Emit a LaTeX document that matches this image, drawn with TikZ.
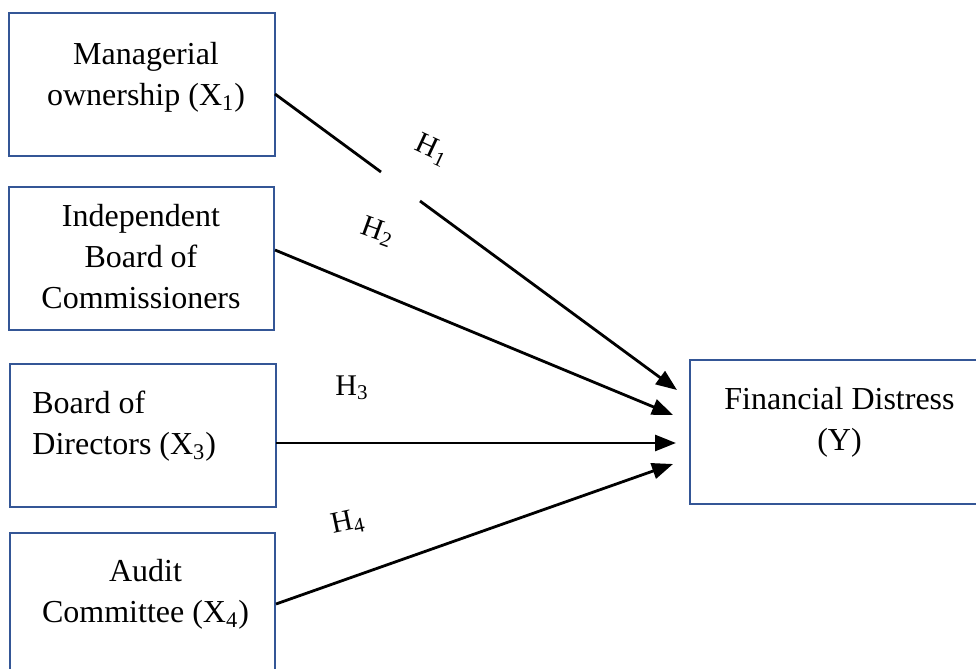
\documentclass[tikz,border=0pt]{standalone}
\usepackage{fontspec}
\setmainfont{Liberation Serif}
\usetikzlibrary{arrows.meta}
\definecolor{boxblue}{RGB}{52,86,150}
\tikzset{
  varbox/.style={draw=boxblue, line width=1.3pt},
  lbl/.style={font=\fontsize{16}{20.5}\selectfont, inner sep=0pt},
  hlbl/.style={font=\fontsize{15}{18}\selectfont, inner sep=0pt},
  conn/.style={line width=1.4pt, -{Triangle[length=10.5pt,width=8pt]}},
  plain/.style={line width=1.4pt}
}
\begin{document}
\begin{tikzpicture}[x=0.5pt,y=-0.5pt]
\useasboundingbox (0,0) rectangle (976,669);
% boxes
\draw[varbox] (9,13) rectangle (275,156);
\draw[varbox] (9,187) rectangle (274,330);
\draw[varbox] (10,364) rectangle (276,507);
\draw[varbox] (10,533) rectangle (275,680);
\draw[varbox] (690,360) rectangle (990,504);
% texts
\node[lbl, align=center] (t1) at (146,77) {Managerial\\ownership (X\textsubscript{1})};
\node[lbl, align=center] (t2) at (141,257) {Independent\\Board of\\Commissioners};
\node[lbl, align=left, anchor=west] (t3) at (32,426) {Board of\\Directors (X\textsubscript{3})};
\node[lbl, align=center] (t4) at (145.5,594) {Audit\\Committee (X\textsubscript{4})};
\node[lbl, align=center] (ty) at (839.5,422) {Financial Distress\\(Y)};
% connector coordinates
\coordinate (s1) at (275,94);
\coordinate (g1) at (381,172);
\coordinate (g2) at (420,201);
\coordinate (e1) at (677,390);
\coordinate (s2) at (275,250);
\coordinate (e2) at (673,415);
\coordinate (s3) at (276,443);
\coordinate (e3) at (676,443);
\coordinate (s4) at (276,604);
\coordinate (e4) at (673,464);
\draw[plain] (s1) -- (g1);
\draw[conn] (g2) -- (e1);
\draw[conn] (s2) -- (e2);
\draw[conn] (s3) -- (e3);
\draw[conn] (s4) -- (e4);
% hypothesis labels
\node[hlbl, rotate=-25] (h1) at (432,150) {H\textsubscript{1}};
\node[hlbl, rotate=-20] (h2) at (378,232) {H\textsubscript{2}};
\node[hlbl] (h3) at (352,388) {H\textsubscript{3}};
\node[hlbl, rotate=12] (h4) at (348,523) {H\textsubscript{4}};
\end{tikzpicture}
\end{document}
